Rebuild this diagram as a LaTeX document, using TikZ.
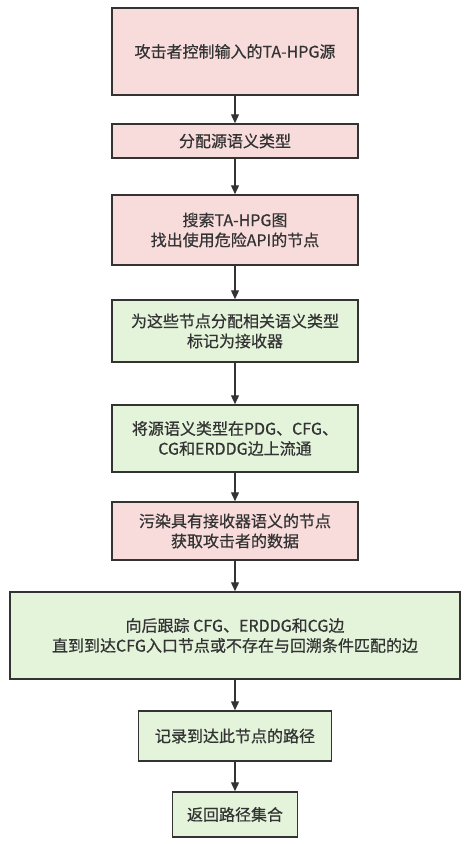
\documentclass[tikz,border=0pt]{standalone}
\usepackage{fontspec}
\setmainfont{Noto Sans CJK SC}[FakeBold=0.6]
\usepackage{xcolor}
\usetikzlibrary{arrows.meta,positioning}
\definecolor{srcfill}{HTML}{F8DCDC}
\definecolor{sinkfill}{HTML}{E4F4DB}
\definecolor{boxline}{HTML}{333333}
\tikzset{
  stepbox/.style={draw=boxline, line width=1.5pt, fill=#1, align=center, inner sep=0pt,
               font=\fontsize{16}{20}\selectfont, text=boxline},
  flow/.style={-{Triangle[length=9pt,width=8pt]}, line width=1.3pt, draw=boxline},
}
\def\cX{235}

\begin{document}
\begin{tikzpicture}[x=1pt,y=-1pt]
  \useasboundingbox (0,0) rectangle (470,844);
  \node[stepbox=srcfill, minimum width=246pt, minimum height=87pt] (src) at (\cX,51.5) {攻击者控制输入的TA-HPG源};
  \node[stepbox=srcfill, minimum width=246pt, minimum height=34pt] (assign) at (\cX,141) {分配源语义类型};
  \node[stepbox=srcfill, minimum width=246pt, minimum height=70pt] (search) at (\cX,230) {搜索TA-HPG图\\找出使用危险API的节点};
  \node[stepbox=sinkfill, minimum width=246pt, minimum height=62pt] (sink) at (\cX,331) {为这些节点分配相关语义类型\\标记为接收器};
  \node[stepbox=sinkfill, minimum width=246pt, minimum height=67pt] (prop) at (\cX,438.5) {将源语义类型在PDG、CFG、\\CG和ERDDG边上流通};
  \node[stepbox=srcfill, minimum width=246pt, minimum height=58pt] (taint) at (\cX,531) {污染具有接收器语义的节点\\获取攻击者的数据};
  \node[stepbox=sinkfill, minimum width=450pt, minimum height=87pt] (back) at (\cX,635.5) {向后跟踪 CFG、ERDDG和CG边\\直到到达CFG入口节点或不存在与回溯条件匹配的边};
  \node[stepbox=sinkfill, minimum width=193pt, minimum height=50pt] (rec) at (\cX,736) {记录到达此节点的路径};
  \node[stepbox=sinkfill, minimum width=125pt, minimum height=45pt] (ret) at (\cX,814.5) {返回路径集合};
  \draw[flow] (src) -- (assign);
  \draw[flow] (assign) -- (search);
  \draw[flow] (search) -- (sink);
  \draw[flow] (sink) -- (prop);
  \draw[flow] (prop) -- (taint);
  \draw[flow] (taint) -- (back);
  \draw[flow] (back) -- (rec);
  \draw[flow] (rec) -- (ret);
\end{tikzpicture}
\end{document}
